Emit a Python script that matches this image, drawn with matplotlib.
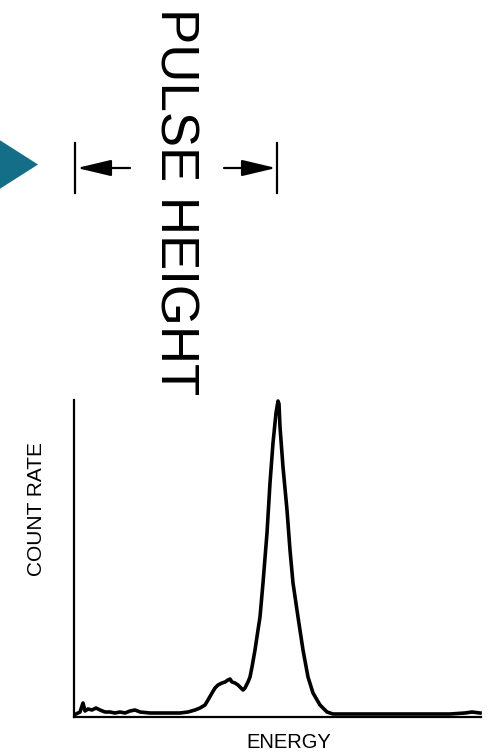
import matplotlib
matplotlib.use("Agg")
import matplotlib.pyplot as plt
from matplotlib.patches import Polygon, FancyArrowPatch
from matplotlib.lines import Line2D

# Spectrum (arbitrary units)
energy = [2, 6, 9, 11, 14, 18, 22, 26, 31, 36, 41, 46, 51, 56, 61, 66, 76, 86, 96,
          106, 114, 121, 126, 131, 134, 138, 141, 144, 148, 151, 154, 156, 158, 161,
          164, 166, 169, 171, 174, 176, 178, 181, 184, 186, 189, 191, 193, 196, 199,
          202, 204, 205, 206, 209, 213, 216, 219, 224, 229, 234, 239, 246, 253, 259,
          276, 326, 376, 391, 398, 406]
count_rate = [2.5, 4.5, 13.5, 5.5, 7.5, 6.5, 8.5, 6.5, 4.5, 4.5, 3.5, 4.5, 3.5, 5.5,
              6.5, 4.5, 3.5, 3.5, 3.5, 3.5, 4.5, 6.5, 8.5, 11.5, 16.5, 23.5, 28.5,
              31.5, 33.5, 34.5, 36.5, 37.5, 34.5, 33.5, 31.5, 29.5, 26.5, 28.5, 34.5,
              39.5, 49.5, 66.5, 86.5, 99.5, 133.5, 158.5, 183.5, 233.5, 273.5, 303.5,
              315.5, 312.5, 289.5, 249.5, 206.5, 166.5, 133.5, 99.5, 66.5, 39.5, 23.5,
              11.5, 4.5, 2.5, 2.5, 2.5, 2.5, 3.5, 4.5, 3.5]

x_label = "ENERGY"
y_label = "COUNT RATE"
title_text = "PULSE HEIGHT"

W, H = 490, 753
fig = plt.figure(figsize=(W / 100, H / 100), dpi=100)
plt.rcParams['font.family'] = ['Liberation Sans', 'DejaVu Sans']

def fx(x):
    return x / W

def fy(y):
    return 1 - y / H

ax_left, ax_right, ax_top, ax_bottom = 74, 481, 400, 716.5
ax = fig.add_axes([fx(ax_left), fy(ax_bottom), (ax_right - ax_left) / W, (ax_bottom - ax_top) / H])
ax.plot(energy, count_rate, color='black', lw=2.6, clip_on=False, solid_joinstyle='round')
ax.set_xlim(0, 407)
ax.set_ylim(0, 316.5)
for s in ['top', 'right']:
    ax.spines[s].set_visible(False)
for s in ['left', 'bottom']:
    ax.spines[s].set_linewidth(1.6)
    ax.spines[s].set_color('black')
ax.set_xticks([])
ax.set_yticks([])

# axis labels
fig.text(fx(288.5), fy(742.5), x_label, ha='center', va='center', fontsize=14.5, color='black')
fig.text(fx(36.5), fy(509), y_label, ha='center', va='center', rotation=90, fontsize=15, color='black')

# big rotated title
fig.text(fx(174), fy(202), title_text, ha='center', va='center', rotation=-90, fontsize=38, color='black')

# dimension markers
for xv in [75, 277]:
    fig.add_artist(Line2D([fx(xv), fx(xv)], [fy(143), fy(193)], color='black', lw=1.6))
for x0, x1 in [(130, 77), (224, 276)]:
    fig.add_artist(FancyArrowPatch((fx(x0), fy(168)), (fx(x1), fy(168)),
                                   transform=fig.transFigure,
                                   arrowstyle='-|>,head_length=2.1,head_width=0.5',
                                   mutation_scale=10, color='black', lw=1.6,
                                   shrinkA=0, shrinkB=0))

# teal pointer triangle
fig.add_artist(Polygon([(fx(-2), fy(139)), (fx(38), fy(164.5)), (fx(-2), fy(190))],
                       closed=True, transform=fig.transFigure,
                       facecolor='#146e87', edgecolor='none'))

fig.savefig('out.png', dpi=100)
